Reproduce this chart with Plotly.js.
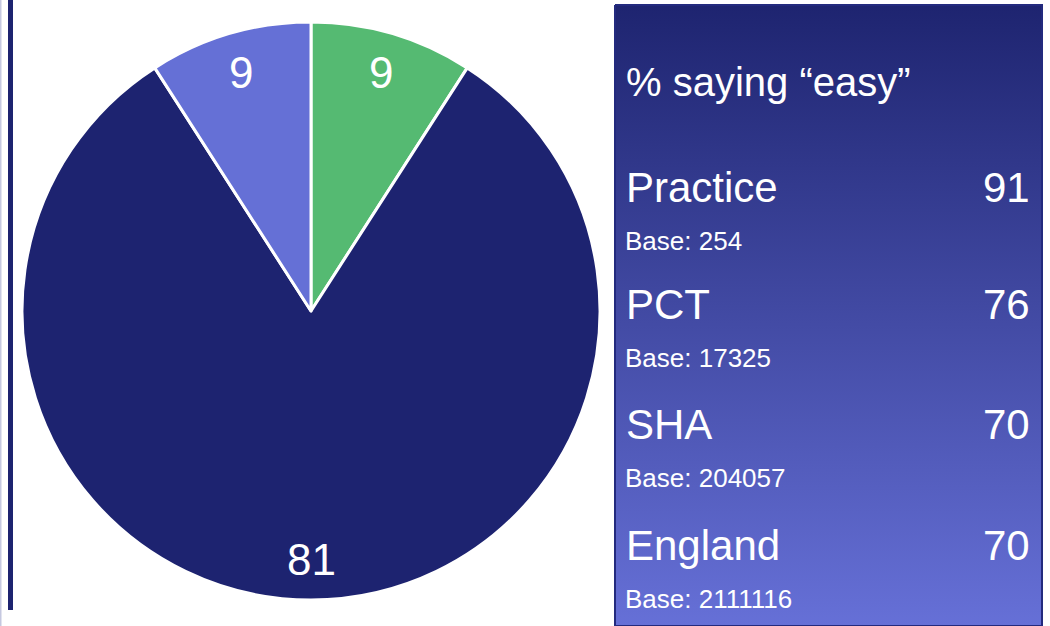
<!DOCTYPE html>
<html>
<head>
<meta charset="utf-8">
<script src="https://cdn.plot.ly/plotly-3.0.1.min.js"></script>
<style>
  html, body { margin: 0; padding: 0; background: #ffffff; }
  #chart { width: 1050px; height: 626px; }
</style>
</head>
<body>
<div id="chart"></div>
<script>
// ---- data ----
const sliceLabels = ["Easy (green)", "Easy (navy)", "Easy (blue)"];
const sliceValues = [9, 81, 9];
const sliceColors = ["#55ba72", "#1d2370", "#6570d6"];

const panelTitle = "% saying \u201ceasy\u201d";
const groupNames = ["Practice", "PCT", "SHA", "England"];
const groupValues = [91, 76, 70, 70];
const groupBases = [254, 17325, 204057, 2111116];

// ---- layout helpers ----
const W = 1050, H = 626;
const px = x => x / W;
const py = y => (H - y) / H;
const FONT = "Liberation Sans, Arial, sans-serif";

// pie geometry
const cx = 311, cy = 311, R = 289;

const traces = [
  {
    type: "pie",
    labels: sliceLabels,
    values: sliceValues,
    marker: { colors: sliceColors, line: { color: "#ffffff", width: 3 } },
    sort: false,
    direction: "clockwise",
    rotation: 0,
    textinfo: "none",
    hoverinfo: "none",
    showlegend: false,
    domain: { x: [px(cx - R), px(cx + R)], y: [py(cy + R), py(cy - R)] }
  },
  {
    // gradient panel background
    type: "scatter",
    x: [615, 1042, 1042, 615, 615],
    y: [5, 5, 626, 626, 5],
    mode: "lines",
    line: { color: "#232a7e", width: 2 },
    fill: "toself",
    fillgradient: {
      type: "vertical",
      colorscale: [[0, "#6670d7"], [1, "#1e2470"]]
    },
    hoverinfo: "skip",
    showlegend: false,
    xaxis: "x",
    yaxis: "y"
  }
];

const annotations = [];

// pie labels (placed from slice values)
const total = sliceValues.reduce((a, b) => a + b, 0);
let cum = 0;
sliceValues.forEach((v, i) => {
  const mid = (cum + v / 2) / total * 2 * Math.PI;
  cum += v;
  const r = R * 0.86;
  const lx = cx + r * Math.sin(mid);
  const ly = cy - r * Math.cos(mid);
  annotations.push({
    xref: "paper", yref: "paper",
    x: px(lx), y: py(ly),
    xanchor: "center", yanchor: "middle",
    text: String(v), showarrow: false,
    font: { family: FONT, size: 44, color: "#ffffff" }
  });
});

// panel title
annotations.push({
  xref: "paper", yref: "paper", x: px(624), y: py(82),
  xanchor: "left", yanchor: "middle", showarrow: false,
  text: panelTitle,
  font: { family: FONT, size: 40, color: "#ffffff" }
});

const rowY = [187, 304, 424, 545];
groupNames.forEach((name, i) => {
  annotations.push({
    xref: "paper", yref: "paper", x: px(624), y: py(rowY[i]),
    xanchor: "left", yanchor: "middle", showarrow: false,
    text: name,
    font: { family: FONT, size: 42, color: "#ffffff" }
  });
  annotations.push({
    xref: "paper", yref: "paper", x: px(1032), y: py(rowY[i]),
    xanchor: "right", yanchor: "middle", showarrow: false,
    text: String(groupValues[i]),
    font: { family: FONT, size: 42, color: "#ffffff" }
  });
  annotations.push({
    xref: "paper", yref: "paper", x: px(623), y: py(rowY[i] + 54),
    xanchor: "left", yanchor: "middle", showarrow: false,
    text: "Base: " + groupBases[i],
    font: { family: FONT, size: 26, color: "#ffffff" }
  });
});

const layout = {
  width: W, height: H,
  margin: { l: 0, r: 0, t: 0, b: 0, pad: 0 },
  paper_bgcolor: "#ffffff",
  plot_bgcolor: "rgba(0,0,0,0)",
  xaxis: { range: [0, W], domain: [0, 1], visible: false, fixedrange: true },
  yaxis: { range: [H, 0], domain: [0, 1], visible: false, fixedrange: true },
  shapes: [
    { type: "rect", xref: "paper", yref: "paper",
      x0: px(8), x1: px(13), y0: py(610), y1: py(0),
      fillcolor: "#1d2370", line: { width: 0 }, layer: "above" },
    { type: "rect", xref: "paper", yref: "paper",
      x0: px(0), x1: px(1.5), y0: py(626), y1: py(0),
      fillcolor: "#c5c8e0", line: { width: 0 }, layer: "above" }
  ],
  annotations: annotations,
  showlegend: false
};

Plotly.newPlot("chart", traces, layout, { staticPlot: true, displayModeBar: false });
</script>
</body>
</html>
